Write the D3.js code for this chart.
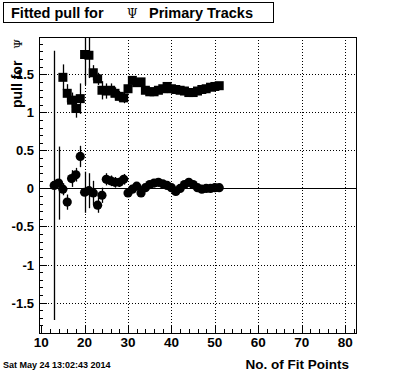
<!DOCTYPE html>
<html>
<head>
<meta charset="utf-8">
<script src="https://cdn.jsdelivr.net/npm/d3@7"></script>
<style>
  body { margin: 0; background: #fff; }
  svg text { font-family: "Liberation Sans", Arial, sans-serif; font-weight: bold; }
</style>
</head>
<body>
<svg id="c"></svg>
<script>
const width = 396;
const height = 372;

// number of fit points
const nFit = [13, 14, 15, 16, 17, 18, 19, 20, 21, 22, 23, 24, 25, 26, 27, 28, 29, 30, 31, 32,
  33, 34, 35, 36, 37, 38, 39, 40, 41, 42, 43, 44, 45, 46, 47, 48, 49, 50, 51];

// mean of the pull (circles)
const meanVals = [0.04, 0.07, -0.01, -0.18, 0.13, 0.18, 0.42, -0.05, -0.03, -0.06, -0.22, -0.09, 0.12, 0.10,
  0.08, 0.08, 0.12, -0.06, -0.01, 0.03, -0.06, 0.01, 0.05, 0.07, 0.08, 0.06, 0.04, 0.01, -0.04,
  0.00, 0.05, 0.08, 0.05, 0.01, -0.01, 0.00, 0.00, 0.01, 0.01];
const meanErrs = [1.77, 0.48, 0.08, 0.10, 0.11, 0.09, 0.14, 0.27, 0.23, 0.16, 0.10, 0.10, 0.08, 0.07,
  0.07, 0.06, 0.07, 0.05, 0.05, 0.05, 0.04, 0.04, 0.04, 0.04, 0.04, 0.04, 0.04, 0.04, 0.04,
  0.04, 0.04, 0.04, 0.04, 0.04, 0.04, 0.04, 0.04, 0.04, 0.04];

// width of the pull (squares), starts at 15 fit points
const sigmaFit = [15, 16, 17, 18, 19, 20, 21, 22, 23, 24, 25, 26, 27, 28, 29, 30, 31, 32, 33, 34,
  35, 36, 37, 38, 39, 40, 41, 42, 43, 44, 45, 46, 47, 48, 49, 50, 51];
const sigmaVals = [1.46, 1.25, 1.16, 1.05, 1.18, 1.76, 1.75, 1.52, 1.44, 1.29, 1.28, 1.29, 1.25, 1.21,
  1.19, 1.31, 1.42, 1.39, 1.40, 1.29, 1.27, 1.27, 1.29, 1.31, 1.34, 1.31, 1.30, 1.29, 1.28,
  1.26, 1.26, 1.28, 1.30, 1.31, 1.33, 1.34, 1.35];
const sigmaErrs = [0.17, 0.12, 0.10, 0.12, 0.20, 0.40, 0.30, 0.10, 0.08, 0.12, 0.10, 0.09, 0.08, 0.07,
  0.07, 0.06, 0.05, 0.05, 0.04, 0.03, 0.03, 0.03, 0.03, 0.03, 0.03, 0.03, 0.03, 0.03, 0.03,
  0.03, 0.03, 0.03, 0.03, 0.03, 0.03, 0.03, 0.03];

const xTicks = [10, 20, 30, 40, 50, 60, 70, 80];
const yTicks = [-1.5, -1, -0.5, 0, 0.5, 1, 1.5];

const frame = {left: 39, right: 356, top: 37, bottom: 333};

const svg = d3.select('#c').attr('width', width).attr('height', height);
svg.append('rect').attr('width', width).attr('height', height).attr('fill', '#fff');

const x = d3.scaleLinear().domain([9.5, 82.5]).range([frame.left, frame.right]);
const y = d3.scaleLinear().domain([-1.9, 1.99]).range([frame.bottom, frame.top]);

svg.append('clipPath').attr('id', 'clip')
  .append('rect')
  .attr('x', frame.left).attr('y', frame.top)
  .attr('width', frame.right - frame.left).attr('height', frame.bottom - frame.top);

// grid
const grid = svg.append('g')
  .attr('stroke', '#000').attr('stroke-width', 1).attr('stroke-dasharray', '1,2')
  .attr('shape-rendering', 'crispEdges');
grid.selectAll('.gx').data(xTicks.filter(d => d > 10)).enter().append('line')
  .attr('x1', d => Math.round(x(d)) + 0.5).attr('x2', d => Math.round(x(d)) + 0.5)
  .attr('y1', frame.top).attr('y2', frame.bottom);
grid.selectAll('.gy').data(yTicks).enter().append('line')
  .attr('y1', d => Math.round(y(d)) + 0.5).attr('y2', d => Math.round(y(d)) + 0.5)
  .attr('x1', frame.left).attr('x2', frame.right);

// zero line
svg.append('line')
  .attr('x1', frame.left).attr('x2', frame.right)
  .attr('y1', Math.round(y(0)) + 0.5).attr('y2', Math.round(y(0)) + 0.5)
  .attr('stroke', '#000').attr('shape-rendering', 'crispEdges');

// axes (ROOT style ticks pointing inward)
const xAxis = d3.axisTop(x).tickValues(d3.range(10, 83, 2)).tickSize(4).tickFormat('');
svg.append('g').attr('transform', `translate(0,${frame.bottom})`).call(xAxis)
  .call(g => g.select('.domain').remove())
  .call(g => g.selectAll('.tick').filter(d => d % 10 === 0).select('line').attr('y2', -8));
const yAxis = d3.axisRight(y).tickValues(d3.range(-1.9, 2.0, 0.1).map(v => +v.toFixed(1))).tickSize(4).tickFormat('');
svg.append('g').attr('transform', `translate(${frame.left},0)`).call(yAxis)
  .call(g => g.select('.domain').remove())
  .call(g => g.selectAll('.tick').filter(d => Math.abs(d * 2 - Math.round(d * 2)) < 1e-6).select('line').attr('x2', 8));
svg.selectAll('.tick line').attr('shape-rendering', 'crispEdges');

// tick labels
svg.append('g').selectAll('text').data(xTicks).enter().append('text')
  .attr('x', d => x(d)).attr('y', frame.bottom + 14)
  .attr('text-anchor', 'middle').attr('font-size', 13.5)
  .text(d => d);
svg.append('g').selectAll('text').data(yTicks).enter().append('text')
  .attr('x', frame.left - 5).attr('y', d => y(d) + 5)
  .attr('text-anchor', 'end').attr('font-size', 13)
  .text(d => d);

// frame
svg.append('rect')
  .attr('x', frame.left + 0.5).attr('y', frame.top + 0.5)
  .attr('width', frame.right - frame.left).attr('height', frame.bottom - frame.top)
  .attr('fill', 'none').attr('stroke', '#000').attr('shape-rendering', 'crispEdges');

// data
const plot = svg.append('g').attr('clip-path', 'url(#clip)');
const meanData = nFit.map((n, i) => ({n, v: meanVals[i], e: meanErrs[i]}));
const sigmaData = sigmaFit.map((n, i) => ({n, v: sigmaVals[i], e: sigmaErrs[i]}));

plot.selectAll('.eb1').data(meanData.concat(sigmaData)).enter().append('line')
  .attr('x1', d => Math.round(x(d.n)) + 0.5).attr('x2', d => Math.round(x(d.n)) + 0.5)
  .attr('y1', d => y(d.v + d.e)).attr('y2', d => y(d.v - d.e))
  .attr('stroke', '#000').attr('stroke-width', 1.3);

plot.selectAll('.sq').data(sigmaData).enter().append('rect')
  .attr('x', d => x(d.n) - 4.5).attr('y', d => y(d.v) - 4.5)
  .attr('width', 9).attr('height', 9).attr('fill', '#000');

plot.selectAll('.ci').data(meanData).enter().append('circle')
  .attr('cx', d => x(d.n)).attr('cy', d => y(d.v)).attr('r', 4.6)
  .attr('fill', '#000');

// titles
svg.append('rect').attr('x', 3.5).attr('y', 2.5).attr('width', 270).attr('height', 20)
  .attr('fill', '#fff').attr('stroke', '#000');
const t = svg.append('text').attr('x', 11).attr('y', 18).attr('font-size', 14.5);
t.append('tspan').text('Fitted pull for');
t.append('tspan').attr('x', 127).attr('font-weight', 'normal').attr('font-family', 'DejaVu Serif').attr('font-size', 12).text('Ψ');
t.append('tspan').attr('x', 149).text('Primary Tracks');

const yt = svg.append('text')
  .attr('transform', `translate(22,${frame.top + 2}) rotate(-90)`)
  .attr('text-anchor', 'end').attr('font-size', 14);
yt.append('tspan').text('pull for');
yt.append('tspan').attr('dx', 12).attr('font-weight', 'normal').attr('font-family', 'DejaVu Serif').attr('font-size', 11).text('Ψ');

svg.append('text').attr('x', 349).attr('y', 369).attr('text-anchor', 'end')
  .attr('font-size', 13.5).text('No. of Fit Points');

svg.append('text').attr('x', 3).attr('y', 368).attr('font-size', 9)
  .text('Sat May 24 13:02:43 2014');
</script>
</body>
</html>
